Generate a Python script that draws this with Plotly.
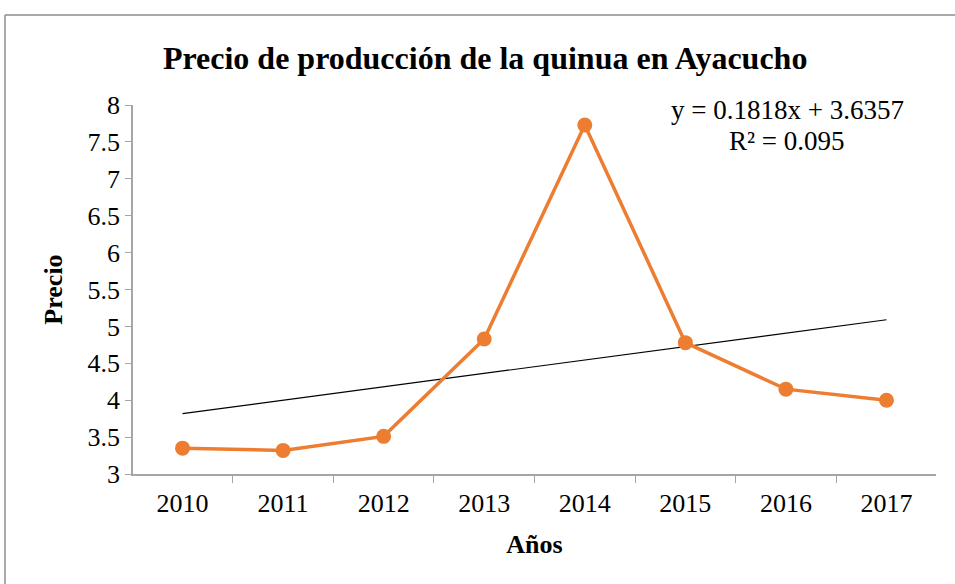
import plotly.graph_objects as go

years = ["2010", "2011", "2012", "2013", "2014", "2015", "2016", "2017"]
precio = [3.35, 3.32, 3.51, 4.83, 7.73, 4.78, 4.15, 4.00]
slope = 0.1818
intercept = 3.6357
r2 = 0.095
title_text = "Precio de producción de la quinua en Ayacucho"

trend = [slope * (i + 1) + intercept for i in range(len(years))]

FONT = "Liberation Serif"
ORANGE = "#ED7D31"
AXIS = "#A6A6A6"

fig = go.Figure()
fig.add_trace(go.Scatter(x=years, y=trend, mode="lines",
                         line=dict(color="black", width=1.2), hoverinfo="skip"))
fig.add_trace(go.Scatter(x=years, y=precio, mode="lines+markers",
                         line=dict(color=ORANGE, width=3.5),
                         marker=dict(color=ORANGE, size=15)))

fig.update_layout(
    width=955, height=584,
    margin=dict(l=133, r=19, t=105, b=110, autoexpand=False),
    paper_bgcolor="white", plot_bgcolor="white",
    showlegend=False,
    font=dict(family=FONT, size=26, color="black"),
    title=dict(text="<b>" + title_text + "</b>", x=0.508, xanchor="center",
               y=1 - 58 / 584, yanchor="middle",
               font=dict(family=FONT, size=32, color="black")),
    xaxis=dict(type="category", tickson="boundaries", ticks="outside", ticklen=7,
               tickcolor=AXIS, showline=True, linecolor=AXIS, linewidth=1.5,
               showgrid=False, zeroline=False, automargin=False,
               ticklabelstandoff=5,
               tickfont=dict(family=FONT, size=26),
               title=dict(text="<b>Años</b>", font=dict(family=FONT, size=26), standoff=18)),
    yaxis=dict(range=[3, 8], dtick=0.5, ticks="outside", ticklen=6,
               tickcolor=AXIS, showline=True, linecolor=AXIS, linewidth=1.5,
               showgrid=False, zeroline=False, automargin=False,
               tickfont=dict(family=FONT, size=26),
               title=dict(text="<b>Precio</b>", font=dict(family=FONT, size=26), standoff=17)),
)

fig.add_annotation(xref="paper", yref="paper", x=(787 - 133) / 803, y=(474 - 110) / 369,
                   text=f"y = {slope}x + {intercept}", showarrow=False,
                   font=dict(family=FONT, size=27), xanchor="center", yanchor="middle")
fig.add_annotation(xref="paper", yref="paper", x=(787 - 133) / 803, y=(474 - 141) / 369,
                   text=f"R² = {r2}", showarrow=False,
                   font=dict(family=FONT, size=27), xanchor="center", yanchor="middle")

# chart-area border (top and left visible in the reference)
fig.add_shape(type="line", xref="paper", yref="paper",
              x0=(5 - 133) / 803, x1=(960 - 133) / 803,
              y0=(474 - 15) / 369, y1=(474 - 15) / 369,
              line=dict(color="#8C8C8C", width=1.5))
fig.add_shape(type="line", xref="paper", yref="paper",
              x0=(5 - 133) / 803, x1=(5 - 133) / 803,
              y0=(474 - 15) / 369, y1=(474 - 600) / 369,
              line=dict(color="#8C8C8C", width=1.5))

fig.write_html("out.html", config={"displayModeBar": False},
               post_script="document.body.style.margin='0';document.body.style.overflow='hidden';")
